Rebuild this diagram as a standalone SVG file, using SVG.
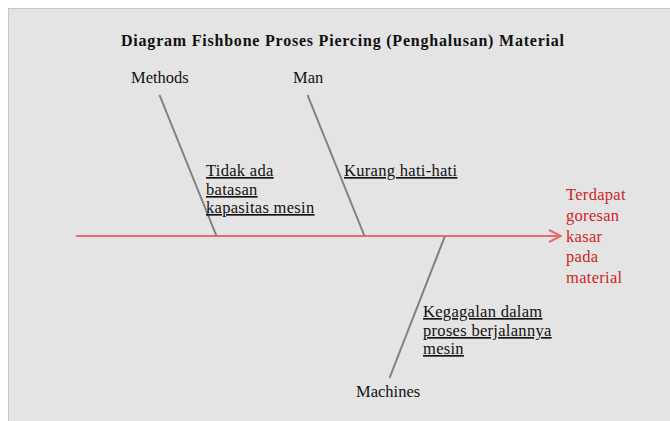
<svg xmlns="http://www.w3.org/2000/svg" width="670" height="421" viewBox="0 0 670 421">
  <style>
    text { font-family: "Liberation Serif", "Times New Roman", serif; font-size: 16.5px; fill: #111; }
    .title { font-weight: bold; font-size: 16px; }
    .cause { text-decoration: underline; letter-spacing: 0.3px; }
    .effect { fill: #d11f1f; letter-spacing: 0.3px; }
    .bone { stroke: #7f7f7f; stroke-width: 2; fill: none; }
    .spine { stroke: #e86a6a; stroke-width: 2; fill: none; }
  </style>
  <defs>
    <marker id="head" viewBox="0 0 14 14" refX="13" refY="7" markerWidth="14" markerHeight="14" markerUnits="userSpaceOnUse" orient="auto">
      <path d="M1,1 L13,7 L1,13" fill="none" stroke="#e86a6a" stroke-width="2"/>
    </marker>
  </defs>

  <!-- canvas -->
  <rect width="670" height="421" fill="#ffffff"/>
  <rect x="8.5" y="8.5" width="670" height="420" fill="#e4e4e4" stroke="#c6c6c6" stroke-width="1"/>

  <text class="title" x="121" y="46" textLength="443" lengthAdjust="spacing">Diagram Fishbone Proses Piercing (Penghalusan) Material</text>

  <!-- connectors: spine and bones -->
  <g id="connectors">
    <line class="spine" x1="76" y1="236" x2="561" y2="236" marker-end="url(#head)"/>
    <line class="bone" x1="159.5" y1="95" x2="216.5" y2="236"/>
    <line class="bone" x1="307.5" y1="95" x2="364.5" y2="236"/>
    <line class="bone" x1="445" y1="236" x2="389.5" y2="378"/>
  </g>

  <g id="methods">
    <text x="131" y="83">Methods</text>
    <text class="cause" x="206" y="176">Tidak ada</text>
    <text class="cause" x="206" y="195">batasan</text>
    <text class="cause" x="206" y="213">kapasitas mesin</text>
  </g>

  <g id="man">
    <text x="293" y="83">Man</text>
    <text class="cause" x="344" y="176">Kurang hati-hati</text>
  </g>

  <g id="machines">
    <text x="356" y="397">Machines</text>
    <text class="cause" x="423" y="317">Kegagalan dalam</text>
    <text class="cause" x="423" y="336">proses berjalannya</text>
    <text class="cause" x="423" y="354">mesin</text>
  </g>

  <g id="effect">
    <text class="effect" x="566" y="200">Terdapat</text>
    <text class="effect" x="566" y="221">goresan</text>
    <text class="effect" x="566" y="242">kasar</text>
    <text class="effect" x="566" y="262">pada</text>
    <text class="effect" x="566" y="283">material</text>
  </g>
</svg>
